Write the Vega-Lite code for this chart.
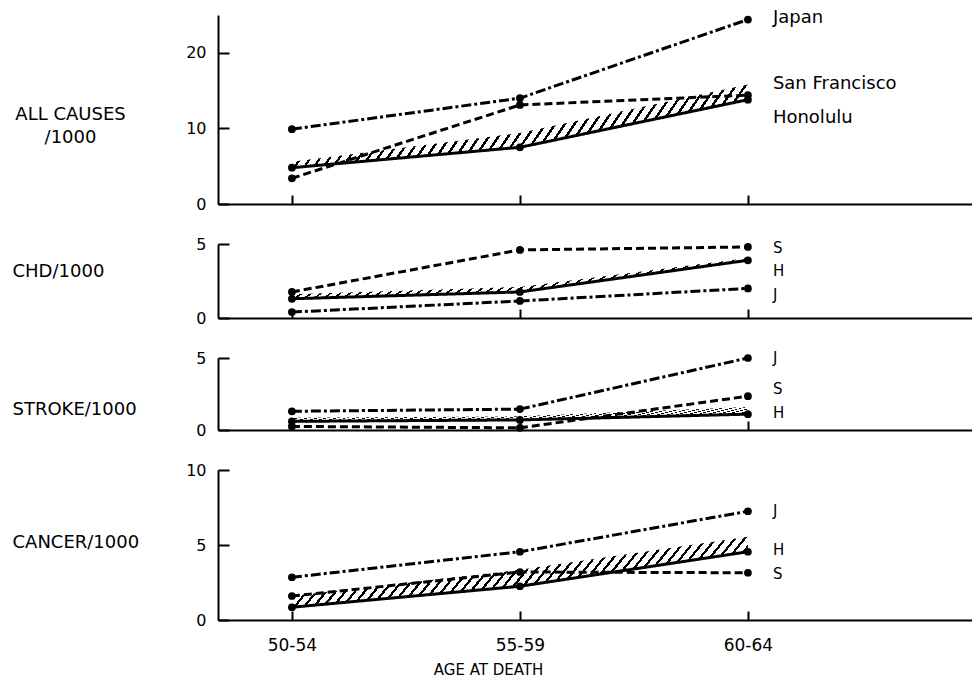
{
"$schema":"https://vega.github.io/schema/vega-lite/v6.json",
"background":"white",
"padding":{"left":12,"top":9,"right":0,"bottom":0},
"autosize":{"type":"pad"},
"spacing":40,
"bounds":"flush",
"datasets":{
"rates":[
{"cause":"ALL","age":"50-54","country":"Japan","rate":9.9},{"cause":"ALL","age":"55-59","country":"Japan","rate":14.0},{"cause":"ALL","age":"60-64","country":"Japan","rate":24.4},
{"cause":"ALL","age":"50-54","country":"San Francisco","rate":3.4},{"cause":"ALL","age":"55-59","country":"San Francisco","rate":13.1},{"cause":"ALL","age":"60-64","country":"San Francisco","rate":14.4},
{"cause":"ALL","age":"50-54","country":"Honolulu","rate":4.8},{"cause":"ALL","age":"55-59","country":"Honolulu","rate":7.5},{"cause":"ALL","age":"60-64","country":"Honolulu","rate":13.8},
{"cause":"CHD","age":"50-54","country":"Japan","rate":0.4},{"cause":"CHD","age":"55-59","country":"Japan","rate":1.15},{"cause":"CHD","age":"60-64","country":"Japan","rate":2.0},
{"cause":"CHD","age":"50-54","country":"San Francisco","rate":1.76},{"cause":"CHD","age":"55-59","country":"San Francisco","rate":4.6},{"cause":"CHD","age":"60-64","country":"San Francisco","rate":4.8},
{"cause":"CHD","age":"50-54","country":"Honolulu","rate":1.3},{"cause":"CHD","age":"55-59","country":"Honolulu","rate":1.76},{"cause":"CHD","age":"60-64","country":"Honolulu","rate":3.9},
{"cause":"STROKE","age":"50-54","country":"Japan","rate":1.3},{"cause":"STROKE","age":"55-59","country":"Japan","rate":1.45},{"cause":"STROKE","age":"60-64","country":"Japan","rate":5.0},
{"cause":"STROKE","age":"50-54","country":"San Francisco","rate":0.25},{"cause":"STROKE","age":"55-59","country":"San Francisco","rate":0.15},{"cause":"STROKE","age":"60-64","country":"San Francisco","rate":2.35},
{"cause":"STROKE","age":"50-54","country":"Honolulu","rate":0.6},{"cause":"STROKE","age":"55-59","country":"Honolulu","rate":0.7},{"cause":"STROKE","age":"60-64","country":"Honolulu","rate":1.1},
{"cause":"CANCER","age":"50-54","country":"Japan","rate":2.85},{"cause":"CANCER","age":"55-59","country":"Japan","rate":4.55},{"cause":"CANCER","age":"60-64","country":"Japan","rate":7.25},
{"cause":"CANCER","age":"50-54","country":"San Francisco","rate":1.6},{"cause":"CANCER","age":"55-59","country":"San Francisco","rate":3.2},{"cause":"CANCER","age":"60-64","country":"San Francisco","rate":3.15},
{"cause":"CANCER","age":"50-54","country":"Honolulu","rate":0.85},{"cause":"CANCER","age":"55-59","country":"Honolulu","rate":2.25},{"cause":"CANCER","age":"60-64","country":"Honolulu","rate":4.55}
],
"band":[
{"cause":"ALL","age":"50-54","lo":4.8,"hi":5.6},{"cause":"ALL","age":"55-59","lo":7.5,"hi":9.4},{"cause":"ALL","age":"60-64","lo":13.8,"hi":15.8},
{"cause":"CHD","age":"50-54","lo":1.3,"hi":1.6},{"cause":"CHD","age":"55-59","lo":1.76,"hi":2.1},{"cause":"CHD","age":"60-64","lo":3.9,"hi":4.05},
{"cause":"STROKE","age":"50-54","lo":0.6,"hi":0.85},{"cause":"STROKE","age":"55-59","lo":0.7,"hi":0.95},{"cause":"STROKE","age":"60-64","lo":1.1,"hi":1.6},
{"cause":"CANCER","age":"50-54","lo":0.85,"hi":1.6},{"cause":"CANCER","age":"55-59","lo":2.25,"hi":3.35},{"cause":"CANCER","age":"60-64","lo":4.55,"hi":5.55}
],
"labels":[
{"cause":"ALL","age":"60-64","label":"Japan","pos":24.6},{"cause":"ALL","age":"60-64","label":"San Francisco","pos":15.9},{"cause":"ALL","age":"60-64","label":"Honolulu","pos":11.4},
{"cause":"CHD","age":"60-64","label":"S","pos":4.7},{"cause":"CHD","age":"60-64","label":"H","pos":3.2},{"cause":"CHD","age":"60-64","label":"J","pos":1.55},
{"cause":"STROKE","age":"60-64","label":"J","pos":5.0},{"cause":"STROKE","age":"60-64","label":"S","pos":2.85},{"cause":"STROKE","age":"60-64","label":"H","pos":1.2},
{"cause":"CANCER","age":"60-64","label":"J","pos":7.25},{"cause":"CANCER","age":"60-64","label":"H","pos":4.65},{"cause":"CANCER","age":"60-64","label":"S","pos":3.05}
]
},
"vconcat":[
{"width":754,"height":189,
"encoding":{"x":{"field":"age","type":"ordinal","scale":{"type":"point","domain":["50-54","55-59","60-64"],"padding":0.6535,"align":0.248},"axis":{"title":null,"labels":false,"tickSize":-9}}},
"layer":[
{"data":{"name":"band"},"transform":[{"filter":"datum.cause==='ALL'"}],"mark":{"type":"area"},
"encoding":{"y":{"field":"hi","type":"quantitative","scale":{"domain":[0,25],"nice":false},"axis":{"title":["ALL CAUSES","/1000"],"titleAngle":0,"titleAlign":"center","titleBaseline":"middle","titleX":-148,"titleY":99,"titleFontSize":18,"titleLineHeight":23,"values":[0,5,10,15,20,25],"labelExpr":"datum.value===0||datum.value===10||datum.value===20?datum.label:''","tickSize":-11,"labelPadding":23}},"y2":{"field":"lo"}}},
{"data":{"name":"rates"},"transform":[{"filter":"datum.cause==='ALL'"}],"mark":{"type":"line","color":"#000","strokeWidth":3},
"encoding":{"y":{"field":"rate","type":"quantitative"},"detail":{"field":"country"},"strokeDash":{"field":"country","type":"nominal","scale":{"domain":["Japan","San Francisco","Honolulu"],"range":[[10,3,3,3],[8,4],[1,0]]},"legend":null}}},
{"data":{"name":"rates"},"transform":[{"filter":"datum.cause==='ALL'"}],"mark":{"type":"circle","color":"#000","size":60,"opacity":1},
"encoding":{"y":{"field":"rate","type":"quantitative"}}},
{"data":{"name":"labels"},"transform":[{"filter":"datum.cause==='ALL'"}],"mark":{"type":"text","align":"left","baseline":"middle","dx":25,"fontSize":18,"color":"#000"},
"encoding":{"y":{"field":"pos","type":"quantitative"},"text":{"field":"label"}}}
]},
{"width":754,"height":74,
"encoding":{"x":{"field":"age","type":"ordinal","scale":{"type":"point","domain":["50-54","55-59","60-64"],"padding":0.6535,"align":0.248},"axis":{"title":null,"labels":false,"tickSize":-9}}},
"layer":[
{"data":{"name":"band"},"transform":[{"filter":"datum.cause==='CHD'"}],"mark":{"type":"area"},
"encoding":{"y":{"field":"hi","type":"quantitative","scale":{"domain":[0,5],"nice":false},"axis":{"title":"CHD/1000","titleAngle":0,"titleAlign":"left","titleBaseline":"middle","titleX":-206,"titleY":27,"titleFontSize":18,"values":[0,5],"tickSize":-11,"labelPadding":23}},"y2":{"field":"lo"}}},
{"data":{"name":"rates"},"transform":[{"filter":"datum.cause==='CHD'"}],"mark":{"type":"line","color":"#000","strokeWidth":3},
"encoding":{"y":{"field":"rate","type":"quantitative"},"detail":{"field":"country"},"strokeDash":{"field":"country","type":"nominal","scale":{"domain":["Japan","San Francisco","Honolulu"],"range":[[10,3,3,3],[8,4],[1,0]]},"legend":null}}},
{"data":{"name":"rates"},"transform":[{"filter":"datum.cause==='CHD'"}],"mark":{"type":"circle","color":"#000","size":60,"opacity":1},
"encoding":{"y":{"field":"rate","type":"quantitative"}}},
{"data":{"name":"labels"},"transform":[{"filter":"datum.cause==='CHD'"}],"mark":{"type":"text","align":"left","baseline":"middle","dx":25,"fontSize":15,"color":"#000"},
"encoding":{"y":{"field":"pos","type":"quantitative"},"text":{"field":"label"}}}
]},
{"width":754,"height":72,
"encoding":{"x":{"field":"age","type":"ordinal","scale":{"type":"point","domain":["50-54","55-59","60-64"],"padding":0.6535,"align":0.248},"axis":{"title":null,"labels":false,"tickSize":-9}}},
"layer":[
{"data":{"name":"band"},"transform":[{"filter":"datum.cause==='STROKE'"}],"mark":{"type":"area"},
"encoding":{"y":{"field":"hi","type":"quantitative","scale":{"domain":[0,5],"nice":false},"axis":{"title":"STROKE/1000","titleAngle":0,"titleAlign":"left","titleBaseline":"middle","titleX":-206,"titleY":51,"titleFontSize":18,"values":[0,5],"tickSize":-11,"labelPadding":23}},"y2":{"field":"lo"}}},
{"data":{"name":"rates"},"transform":[{"filter":"datum.cause==='STROKE'"}],"mark":{"type":"line","color":"#000","strokeWidth":3},
"encoding":{"y":{"field":"rate","type":"quantitative"},"detail":{"field":"country"},"strokeDash":{"field":"country","type":"nominal","scale":{"domain":["Japan","San Francisco","Honolulu"],"range":[[10,3,3,3],[8,4],[1,0]]},"legend":null}}},
{"data":{"name":"rates"},"transform":[{"filter":"datum.cause==='STROKE'"}],"mark":{"type":"circle","color":"#000","size":60,"opacity":1},
"encoding":{"y":{"field":"rate","type":"quantitative"}}},
{"data":{"name":"labels"},"transform":[{"filter":"datum.cause==='STROKE'"}],"mark":{"type":"text","align":"left","baseline":"middle","dx":25,"fontSize":15,"color":"#000"},
"encoding":{"y":{"field":"pos","type":"quantitative"},"text":{"field":"label"}}}
]},
{"width":754,"height":150,
"encoding":{"x":{"field":"age","type":"ordinal","scale":{"type":"point","domain":["50-54","55-59","60-64"],"padding":0.6535,"align":0.248},"axis":{"title":"AGE AT DEATH","labels":true,"labelAngle":0,"labelFontSize":17,"tickSize":-9,"labelPadding":26,"titleX":270,"titleY":49,"titleAlign":"center","titleBaseline":"middle","titleFontSize":15}}},
"layer":[
{"data":{"name":"band"},"transform":[{"filter":"datum.cause==='CANCER'"}],"mark":{"type":"area"},
"encoding":{"y":{"field":"hi","type":"quantitative","scale":{"domain":[0,10],"nice":false},"axis":{"title":"CANCER/1000","titleAngle":0,"titleAlign":"left","titleBaseline":"middle","titleX":-206,"titleY":72,"titleFontSize":18,"values":[0,5,10],"tickSize":-11,"labelPadding":23}},"y2":{"field":"lo"}}},
{"data":{"name":"rates"},"transform":[{"filter":"datum.cause==='CANCER'"}],"mark":{"type":"line","color":"#000","strokeWidth":3},
"encoding":{"y":{"field":"rate","type":"quantitative"},"detail":{"field":"country"},"strokeDash":{"field":"country","type":"nominal","scale":{"domain":["Japan","San Francisco","Honolulu"],"range":[[10,3,3,3],[8,4],[1,0]]},"legend":null}}},
{"data":{"name":"rates"},"transform":[{"filter":"datum.cause==='CANCER'"}],"mark":{"type":"circle","color":"#000","size":60,"opacity":1},
"encoding":{"y":{"field":"rate","type":"quantitative"}}},
{"data":{"name":"labels"},"transform":[{"filter":"datum.cause==='CANCER'"}],"mark":{"type":"text","align":"left","baseline":"middle","dx":25,"fontSize":15,"color":"#000"},
"encoding":{"y":{"field":"pos","type":"quantitative"},"text":{"field":"label"}}}
]}
],
"config":{
"font":"DejaVu Sans",
"view":{"stroke":null},
"axis":{"domainColor":"#000","domainWidth":2,"tickColor":"#000","tickWidth":2,"labelColor":"#000","titleColor":"#000","labelFontSize":16,"titleFontWeight":"normal","grid":false,"labelFont":"DejaVu Sans","titleFont":"DejaVu Sans"},
"area":{"fill":{"gradient":"linear","x1":0,"y1":0,"x2":1.04,"y2":0.13,"stops":[
{"offset":0,"color":"#000"},{"offset":0.006,"color":"#000"},{"offset":0.006,"color":"#fff"},{"offset":0.02,"color":"#fff"},
{"offset":0.02,"color":"#000"},{"offset":0.026,"color":"#000"},{"offset":0.026,"color":"#fff"},{"offset":0.04,"color":"#fff"},
{"offset":0.04,"color":"#000"},{"offset":0.046,"color":"#000"},{"offset":0.046,"color":"#fff"},{"offset":0.06,"color":"#fff"},
{"offset":0.06,"color":"#000"},{"offset":0.066,"color":"#000"},{"offset":0.066,"color":"#fff"},{"offset":0.08,"color":"#fff"},
{"offset":0.08,"color":"#000"},{"offset":0.086,"color":"#000"},{"offset":0.086,"color":"#fff"},{"offset":0.1,"color":"#fff"},
{"offset":0.1,"color":"#000"},{"offset":0.106,"color":"#000"},{"offset":0.106,"color":"#fff"},{"offset":0.12,"color":"#fff"},
{"offset":0.12,"color":"#000"},{"offset":0.126,"color":"#000"},{"offset":0.126,"color":"#fff"},{"offset":0.14,"color":"#fff"},
{"offset":0.14,"color":"#000"},{"offset":0.146,"color":"#000"},{"offset":0.146,"color":"#fff"},{"offset":0.16,"color":"#fff"},
{"offset":0.16,"color":"#000"},{"offset":0.166,"color":"#000"},{"offset":0.166,"color":"#fff"},{"offset":0.18,"color":"#fff"},
{"offset":0.18,"color":"#000"},{"offset":0.186,"color":"#000"},{"offset":0.186,"color":"#fff"},{"offset":0.2,"color":"#fff"},
{"offset":0.2,"color":"#000"},{"offset":0.206,"color":"#000"},{"offset":0.206,"color":"#fff"},{"offset":0.22,"color":"#fff"},
{"offset":0.22,"color":"#000"},{"offset":0.226,"color":"#000"},{"offset":0.226,"color":"#fff"},{"offset":0.24,"color":"#fff"},
{"offset":0.24,"color":"#000"},{"offset":0.246,"color":"#000"},{"offset":0.246,"color":"#fff"},{"offset":0.26,"color":"#fff"},
{"offset":0.26,"color":"#000"},{"offset":0.266,"color":"#000"},{"offset":0.266,"color":"#fff"},{"offset":0.28,"color":"#fff"},
{"offset":0.28,"color":"#000"},{"offset":0.286,"color":"#000"},{"offset":0.286,"color":"#fff"},{"offset":0.3,"color":"#fff"},
{"offset":0.3,"color":"#000"},{"offset":0.306,"color":"#000"},{"offset":0.306,"color":"#fff"},{"offset":0.32,"color":"#fff"},
{"offset":0.32,"color":"#000"},{"offset":0.326,"color":"#000"},{"offset":0.326,"color":"#fff"},{"offset":0.34,"color":"#fff"},
{"offset":0.34,"color":"#000"},{"offset":0.346,"color":"#000"},{"offset":0.346,"color":"#fff"},{"offset":0.36,"color":"#fff"},
{"offset":0.36,"color":"#000"},{"offset":0.366,"color":"#000"},{"offset":0.366,"color":"#fff"},{"offset":0.38,"color":"#fff"},
{"offset":0.38,"color":"#000"},{"offset":0.386,"color":"#000"},{"offset":0.386,"color":"#fff"},{"offset":0.4,"color":"#fff"},
{"offset":0.4,"color":"#000"},{"offset":0.406,"color":"#000"},{"offset":0.406,"color":"#fff"},{"offset":0.42,"color":"#fff"},
{"offset":0.42,"color":"#000"},{"offset":0.426,"color":"#000"},{"offset":0.426,"color":"#fff"},{"offset":0.44,"color":"#fff"},
{"offset":0.44,"color":"#000"},{"offset":0.446,"color":"#000"},{"offset":0.446,"color":"#fff"},{"offset":0.46,"color":"#fff"},
{"offset":0.46,"color":"#000"},{"offset":0.466,"color":"#000"},{"offset":0.466,"color":"#fff"},{"offset":0.48,"color":"#fff"},
{"offset":0.48,"color":"#000"},{"offset":0.486,"color":"#000"},{"offset":0.486,"color":"#fff"},{"offset":0.5,"color":"#fff"},
{"offset":0.5,"color":"#000"},{"offset":0.506,"color":"#000"},{"offset":0.506,"color":"#fff"},{"offset":0.52,"color":"#fff"},
{"offset":0.52,"color":"#000"},{"offset":0.526,"color":"#000"},{"offset":0.526,"color":"#fff"},{"offset":0.54,"color":"#fff"},
{"offset":0.54,"color":"#000"},{"offset":0.546,"color":"#000"},{"offset":0.546,"color":"#fff"},{"offset":0.56,"color":"#fff"},
{"offset":0.56,"color":"#000"},{"offset":0.566,"color":"#000"},{"offset":0.566,"color":"#fff"},{"offset":0.58,"color":"#fff"},
{"offset":0.58,"color":"#000"},{"offset":0.586,"color":"#000"},{"offset":0.586,"color":"#fff"},{"offset":0.6,"color":"#fff"},
{"offset":0.6,"color":"#000"},{"offset":0.606,"color":"#000"},{"offset":0.606,"color":"#fff"},{"offset":0.62,"color":"#fff"},
{"offset":0.62,"color":"#000"},{"offset":0.626,"color":"#000"},{"offset":0.626,"color":"#fff"},{"offset":0.64,"color":"#fff"},
{"offset":0.64,"color":"#000"},{"offset":0.646,"color":"#000"},{"offset":0.646,"color":"#fff"},{"offset":0.66,"color":"#fff"},
{"offset":0.66,"color":"#000"},{"offset":0.666,"color":"#000"},{"offset":0.666,"color":"#fff"},{"offset":0.68,"color":"#fff"},
{"offset":0.68,"color":"#000"},{"offset":0.686,"color":"#000"},{"offset":0.686,"color":"#fff"},{"offset":0.7,"color":"#fff"},
{"offset":0.7,"color":"#000"},{"offset":0.706,"color":"#000"},{"offset":0.706,"color":"#fff"},{"offset":0.72,"color":"#fff"},
{"offset":0.72,"color":"#000"},{"offset":0.726,"color":"#000"},{"offset":0.726,"color":"#fff"},{"offset":0.74,"color":"#fff"},
{"offset":0.74,"color":"#000"},{"offset":0.746,"color":"#000"},{"offset":0.746,"color":"#fff"},{"offset":0.76,"color":"#fff"},
{"offset":0.76,"color":"#000"},{"offset":0.766,"color":"#000"},{"offset":0.766,"color":"#fff"},{"offset":0.78,"color":"#fff"},
{"offset":0.78,"color":"#000"},{"offset":0.786,"color":"#000"},{"offset":0.786,"color":"#fff"},{"offset":0.8,"color":"#fff"},
{"offset":0.8,"color":"#000"},{"offset":0.806,"color":"#000"},{"offset":0.806,"color":"#fff"},{"offset":0.82,"color":"#fff"},
{"offset":0.82,"color":"#000"},{"offset":0.826,"color":"#000"},{"offset":0.826,"color":"#fff"},{"offset":0.84,"color":"#fff"},
{"offset":0.84,"color":"#000"},{"offset":0.846,"color":"#000"},{"offset":0.846,"color":"#fff"},{"offset":0.86,"color":"#fff"},
{"offset":0.86,"color":"#000"},{"offset":0.866,"color":"#000"},{"offset":0.866,"color":"#fff"},{"offset":0.88,"color":"#fff"},
{"offset":0.88,"color":"#000"},{"offset":0.886,"color":"#000"},{"offset":0.886,"color":"#fff"},{"offset":0.9,"color":"#fff"},
{"offset":0.9,"color":"#000"},{"offset":0.906,"color":"#000"},{"offset":0.906,"color":"#fff"},{"offset":0.92,"color":"#fff"},
{"offset":0.92,"color":"#000"},{"offset":0.926,"color":"#000"},{"offset":0.926,"color":"#fff"},{"offset":0.94,"color":"#fff"},
{"offset":0.94,"color":"#000"},{"offset":0.946,"color":"#000"},{"offset":0.946,"color":"#fff"},{"offset":0.96,"color":"#fff"},
{"offset":0.96,"color":"#000"},{"offset":0.966,"color":"#000"},{"offset":0.966,"color":"#fff"},{"offset":0.98,"color":"#fff"},
{"offset":0.98,"color":"#000"},{"offset":0.986,"color":"#000"},{"offset":0.986,"color":"#fff"},{"offset":1,"color":"#fff"}
]}}}
}
